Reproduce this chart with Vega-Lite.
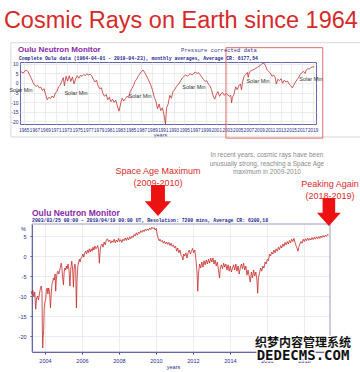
{
  "$schema": "https://vega.github.io/schema/vega-lite/v6.json",
  "background": "white",
  "padding": {"left": 3, "top": 9, "right": 0, "bottom": 0},
  "title": {"text": "Cosmic Rays on Earth since 1964", "anchor": "start", "frame": "bounds", "font": "Liberation Sans", "fontSize": 23.5, "fontWeight": "normal", "color": "#d62a2a", "baseline": "alphabetic", "offset": -10, "dx": -5},
  "columns": 1,
  "spacing": 12,
  "datasets": {
    "topLine": [
      {"t":1964.3,"v":5.0},{"t":1964.6,"v":5.8},{"t":1964.9,"v":5.2},{"t":1965.2,"v":6.3},{"t":1965.5,"v":6.8},{"t":1965.8,"v":5.9},
      {"t":1966.1,"v":4.2},{"t":1966.4,"v":2.5},{"t":1966.7,"v":0.5},{"t":1967.0,"v":-1.0},{"t":1967.3,"v":-1.8},{"t":1967.6,"v":-1.2},
      {"t":1967.9,"v":-2.6},{"t":1968.2,"v":-2.2},{"t":1968.5,"v":-4.0},{"t":1968.8,"v":-3.0},{"t":1969.1,"v":-6.2},{"t":1969.4,"v":-8.8},
      {"t":1969.7,"v":-7.5},{"t":1970.0,"v":-8.2},{"t":1970.3,"v":-6.8},{"t":1970.6,"v":-7.8},{"t":1970.9,"v":-5.2},{"t":1971.2,"v":-4.5},
      {"t":1971.5,"v":-2.0},{"t":1971.8,"v":-1.2},{"t":1972.1,"v":0.8},{"t":1972.4,"v":2.8},{"t":1972.6,"v":-1.5},{"t":1972.9,"v":3.5},
      {"t":1973.2,"v":1.0},{"t":1973.5,"v":3.8},{"t":1973.8,"v":0.8},{"t":1974.1,"v":3.2},{"t":1974.4,"v":-0.5},{"t":1974.7,"v":2.2},
      {"t":1975.0,"v":3.8},{"t":1975.3,"v":2.5},{"t":1975.6,"v":4.0},{"t":1975.9,"v":3.5},{"t":1976.2,"v":4.5},{"t":1976.5,"v":3.8},
      {"t":1976.8,"v":4.8},{"t":1977.1,"v":4.2},{"t":1977.4,"v":4.6},{"t":1977.7,"v":3.8},{"t":1978.0,"v":2.0},{"t":1978.3,"v":0.5},
      {"t":1978.6,"v":1.5},{"t":1978.9,"v":-1.5},{"t":1979.2,"v":-3.0},{"t":1979.5,"v":-2.5},{"t":1979.8,"v":-5.5},{"t":1980.1,"v":-7.0},
      {"t":1980.4,"v":-6.0},{"t":1980.7,"v":-8.8},{"t":1981.0,"v":-7.5},{"t":1981.3,"v":-9.8},{"t":1981.6,"v":-8.5},{"t":1981.9,"v":-10.2},
      {"t":1982.2,"v":-9.0},{"t":1982.5,"v":-12.0},{"t":1982.8,"v":-14.8},{"t":1983.1,"v":-11.0},{"t":1983.4,"v":-8.0},{"t":1983.7,"v":-9.5},
      {"t":1984.0,"v":-8.2},{"t":1984.3,"v":-7.0},{"t":1984.6,"v":-7.5},{"t":1984.9,"v":-4.5},{"t":1985.2,"v":-3.0},{"t":1985.5,"v":-1.5},
      {"t":1985.8,"v":0.8},{"t":1986.1,"v":2.0},{"t":1986.4,"v":3.5},{"t":1986.7,"v":4.8},{"t":1987.0,"v":6.0},{"t":1987.3,"v":6.8},
      {"t":1987.6,"v":5.5},{"t":1987.9,"v":4.0},{"t":1988.2,"v":2.2},{"t":1988.5,"v":0.5},{"t":1988.8,"v":-1.5},{"t":1989.1,"v":-4.0},
      {"t":1989.4,"v":-7.5},{"t":1989.7,"v":-9.5},{"t":1990.0,"v":-13.5},{"t":1990.3,"v":-11.0},{"t":1990.6,"v":-14.5},{"t":1990.9,"v":-13.0},
      {"t":1991.2,"v":-16.5},{"t":1991.5,"v":-21.5},{"t":1991.7,"v":-13.0},{"t":1992.0,"v":-11.0},{"t":1992.3,"v":-6.5},{"t":1992.6,"v":-8.0},
      {"t":1992.9,"v":-4.5},{"t":1993.2,"v":-3.5},{"t":1993.5,"v":-2.0},{"t":1993.8,"v":-1.0},{"t":1994.1,"v":0.0},{"t":1994.4,"v":1.5},
      {"t":1994.7,"v":2.8},{"t":1995.0,"v":3.6},{"t":1995.3,"v":4.2},{"t":1995.6,"v":3.5},{"t":1995.9,"v":4.5},{"t":1996.2,"v":4.8},
      {"t":1996.5,"v":4.2},{"t":1996.8,"v":5.2},{"t":1997.1,"v":5.6},{"t":1997.4,"v":5.0},{"t":1997.7,"v":5.4},{"t":1998.0,"v":4.2},
      {"t":1998.3,"v":3.0},{"t":1998.6,"v":1.8},{"t":1998.9,"v":0.8},{"t":1999.2,"v":1.2},{"t":1999.5,"v":-0.5},{"t":1999.8,"v":-1.5},
      {"t":2000.1,"v":-3.5},{"t":2000.4,"v":-6.8},{"t":2000.7,"v":-8.5},{"t":2001.0,"v":-6.0},{"t":2001.3,"v":-4.5},{"t":2001.6,"v":-7.0},
      {"t":2001.9,"v":-5.5},{"t":2002.2,"v":-5.0},{"t":2002.5,"v":-6.5},{"t":2002.8,"v":-5.5},{"t":2003.1,"v":-6.0},{"t":2003.4,"v":-7.0},
      {"t":2003.7,"v":-6.5},{"t":2003.85,"v":-10.5},{"t":2004.0,"v":-7.5},{"t":2004.3,"v":-6.0},{"t":2004.6,"v":-2.0},{"t":2004.9,"v":-3.5},
      {"t":2005.2,"v":-1.5},{"t":2005.5,"v":-0.5},{"t":2005.7,"v":-3.5},{"t":2005.9,"v":0.5},{"t":2006.2,"v":3.5},{"t":2006.5,"v":4.5},
      {"t":2006.8,"v":5.5},{"t":2006.95,"v":3.0},{"t":2007.2,"v":5.8},{"t":2007.5,"v":6.5},{"t":2007.8,"v":6.8},{"t":2008.1,"v":7.2},
      {"t":2008.4,"v":7.8},{"t":2008.7,"v":8.2},{"t":2009.0,"v":8.8},{"t":2009.3,"v":9.5},{"t":2009.6,"v":10.2},{"t":2009.9,"v":10.4},
      {"t":2010.2,"v":9.0},{"t":2010.5,"v":6.8},{"t":2010.8,"v":6.0},{"t":2011.1,"v":5.2},{"t":2011.4,"v":3.5},{"t":2011.7,"v":4.2},
      {"t":2012.0,"v":3.0},{"t":2012.2,"v":-0.5},{"t":2012.5,"v":2.0},{"t":2012.8,"v":1.2},{"t":2013.1,"v":2.2},{"t":2013.4,"v":-0.2},
      {"t":2013.7,"v":1.5},{"t":2014.0,"v":0.5},{"t":2014.3,"v":1.0},{"t":2014.6,"v":-0.5},{"t":2014.9,"v":-1.5},{"t":2015.2,"v":-2.5},
      {"t":2015.5,"v":-1.0},{"t":2015.8,"v":0.5},{"t":2016.1,"v":1.8},{"t":2016.4,"v":3.0},{"t":2016.7,"v":4.5},{"t":2017.0,"v":5.5},
      {"t":2017.3,"v":6.0},{"t":2017.6,"v":5.0},{"t":2017.8,"v":6.8},{"t":2018.1,"v":7.5},{"t":2018.4,"v":7.2},{"t":2018.7,"v":8.2},
      {"t":2019.0,"v":8.4},{"t":2019.3,"v":8.6}
    ],
    "botLine": [
      {"t":2003.25,"v":-8.8},{"t":2003.30,"v":-9.5},{"t":2003.35,"v":-8.6},{"t":2003.40,"v":-10.2},{"t":2003.45,"v":-9.0},{"t":2003.50,"v":-13.3},
      {"t":2003.55,"v":-10.5},{"t":2003.60,"v":-10.0},{"t":2003.65,"v":-11.0},{"t":2003.70,"v":-9.5},{"t":2003.75,"v":-8.2},{"t":2003.80,"v":-7.5},
      {"t":2003.84,"v":-9.0},{"t":2003.86,"v":-18.0},{"t":2003.88,"v":-23.0},{"t":2003.90,"v":-20.5},{"t":2003.93,"v":-18.7},{"t":2003.96,"v":-13.0},
      {"t":2004.00,"v":-11.5},{"t":2004.04,"v":-10.7},{"t":2004.08,"v":-8.5},{"t":2004.12,"v":-8.0},{"t":2004.16,"v":-9.5},{"t":2004.20,"v":-8.0},
      {"t":2004.25,"v":-9.0},{"t":2004.30,"v":-13.0},{"t":2004.34,"v":-9.5},{"t":2004.38,"v":-7.0},{"t":2004.42,"v":-6.5},{"t":2004.46,"v":-5.5},
      {"t":2004.50,"v":-6.0},{"t":2004.55,"v":-4.5},{"t":2004.58,"v":-8.8},{"t":2004.62,"v":-5.5},{"t":2004.66,"v":-4.2},{"t":2004.70,"v":-3.8},
      {"t":2004.75,"v":-4.5},{"t":2004.80,"v":-3.5},{"t":2004.85,"v":-2.5},{"t":2004.88,"v":-1.8},{"t":2004.92,"v":-3.0},{"t":2004.96,"v":-5.5},
      {"t":2005.00,"v":-7.2},{"t":2005.04,"v":-4.0},{"t":2005.08,"v":-3.0},{"t":2005.12,"v":-3.5},{"t":2005.16,"v":-2.5},{"t":2005.20,"v":-3.2},
      {"t":2005.25,"v":-2.0},{"t":2005.30,"v":-3.5},{"t":2005.35,"v":-7.5},{"t":2005.40,"v":-3.0},{"t":2005.45,"v":-1.3},{"t":2005.50,"v":-3.5},
      {"t":2005.54,"v":-7.8},{"t":2005.58,"v":-3.0},{"t":2005.62,"v":-2.0},{"t":2005.66,"v":-3.2},{"t":2005.70,"v":-13.0},{"t":2005.74,"v":-5.5},
      {"t":2005.78,"v":-2.5},{"t":2005.82,"v":-1.5},{"t":2005.86,"v":-0.8},{"t":2005.90,"v":-1.5},{"t":2005.95,"v":-0.5},{"t":2006.00,"v":-0.2},
      {"t":2006.05,"v":0.5},{"t":2006.10,"v":-0.3},{"t":2006.15,"v":0.8},{"t":2006.20,"v":1.2},{"t":2006.25,"v":0.5},{"t":2006.30,"v":1.5},
      {"t":2006.35,"v":0.8},{"t":2006.40,"v":1.8},{"t":2006.45,"v":1.0},{"t":2006.50,"v":1.8},{"t":2006.55,"v":1.2},{"t":2006.60,"v":2.2},
      {"t":2006.65,"v":1.5},{"t":2006.70,"v":2.5},{"t":2006.75,"v":1.8},{"t":2006.80,"v":2.0},{"t":2006.85,"v":2.6},{"t":2006.90,"v":1.5},
      {"t":2006.94,"v":-1.8},{"t":2006.98,"v":1.0},{"t":2007.02,"v":2.5},{"t":2007.08,"v":3.0},{"t":2007.14,"v":2.2},{"t":2007.20,"v":3.5},
      {"t":2007.26,"v":2.8},{"t":2007.32,"v":4.0},{"t":2007.38,"v":4.3},{"t":2007.44,"v":3.6},{"t":2007.50,"v":4.0},{"t":2007.56,"v":3.2},
      {"t":2007.62,"v":3.8},{"t":2007.68,"v":3.4},{"t":2007.74,"v":4.2},{"t":2007.80,"v":3.3},{"t":2007.86,"v":4.0},{"t":2007.92,"v":3.5},
      {"t":2007.98,"v":4.4},{"t":2008.04,"v":3.6},{"t":2008.10,"v":4.1},{"t":2008.16,"v":3.4},{"t":2008.22,"v":4.2},{"t":2008.28,"v":3.8},
      {"t":2008.34,"v":4.5},{"t":2008.40,"v":3.9},{"t":2008.46,"v":4.6},{"t":2008.52,"v":4.0},{"t":2008.58,"v":4.8},{"t":2008.64,"v":4.3},
      {"t":2008.70,"v":5.0},{"t":2008.76,"v":4.6},{"t":2008.82,"v":5.4},{"t":2008.88,"v":5.0},{"t":2008.94,"v":5.8},{"t":2009.00,"v":5.2},
      {"t":2009.06,"v":6.0},{"t":2009.12,"v":5.6},{"t":2009.18,"v":6.3},{"t":2009.24,"v":5.9},{"t":2009.30,"v":6.5},{"t":2009.36,"v":6.1},
      {"t":2009.42,"v":6.7},{"t":2009.48,"v":6.3},{"t":2009.54,"v":6.8},{"t":2009.60,"v":6.4},{"t":2009.66,"v":7.0},{"t":2009.72,"v":6.6},
      {"t":2009.78,"v":7.2},{"t":2009.84,"v":6.8},{"t":2009.90,"v":7.1},{"t":2009.96,"v":6.5},{"t":2010.02,"v":6.9},{"t":2010.06,"v":5.5},
      {"t":2010.10,"v":4.8},{"t":2010.14,"v":4.2},{"t":2010.18,"v":3.8},{"t":2010.22,"v":4.2},{"t":2010.28,"v":3.6},{"t":2010.34,"v":3.9},
      {"t":2010.40,"v":3.2},{"t":2010.46,"v":3.7},{"t":2010.52,"v":3.0},{"t":2010.58,"v":3.5},{"t":2010.64,"v":2.9},{"t":2010.70,"v":3.4},
      {"t":2010.76,"v":2.6},{"t":2010.82,"v":3.2},{"t":2010.88,"v":2.4},{"t":2010.94,"v":2.8},{"t":2011.00,"v":2.0},{"t":2011.06,"v":2.5},
      {"t":2011.12,"v":1.2},{"t":2011.18,"v":2.0},{"t":2011.24,"v":0.8},{"t":2011.30,"v":1.5},{"t":2011.36,"v":0.2},{"t":2011.42,"v":-0.2},
      {"t":2011.46,"v":-1.0},{"t":2011.50,"v":0.5},{"t":2011.56,"v":0.0},{"t":2011.62,"v":0.8},{"t":2011.68,"v":-0.5},{"t":2011.74,"v":0.8},
      {"t":2011.80,"v":1.5},{"t":2011.86,"v":0.5},{"t":2011.92,"v":1.2},{"t":2011.98,"v":1.9},{"t":2012.04,"v":0.8},{"t":2012.10,"v":1.5},
      {"t":2012.16,"v":-0.8},{"t":2012.22,"v":-4.0},{"t":2012.26,"v":-8.8},{"t":2012.30,"v":-4.5},{"t":2012.36,"v":-2.0},{"t":2012.42,"v":-3.0},
      {"t":2012.48,"v":-1.5},{"t":2012.54,"v":-2.8},{"t":2012.60,"v":-1.2},{"t":2012.66,"v":-2.2},{"t":2012.72,"v":-1.0},{"t":2012.78,"v":-2.0},
      {"t":2012.84,"v":-0.8},{"t":2012.90,"v":-1.8},{"t":2012.96,"v":-0.5},{"t":2013.02,"v":-1.5},{"t":2013.08,"v":-0.5},{"t":2013.14,"v":-2.0},
      {"t":2013.20,"v":-1.0},{"t":2013.26,"v":-2.5},{"t":2013.32,"v":-1.5},{"t":2013.38,"v":-3.5},{"t":2013.44,"v":-5.5},{"t":2013.48,"v":-3.0},
      {"t":2013.54,"v":-2.2},{"t":2013.60,"v":-3.2},{"t":2013.66,"v":-1.8},{"t":2013.72,"v":-2.8},{"t":2013.78,"v":-2.0},{"t":2013.84,"v":-3.5},
      {"t":2013.90,"v":-2.2},{"t":2013.96,"v":-3.8},{"t":2014.02,"v":-2.5},{"t":2014.08,"v":-4.0},{"t":2014.14,"v":-3.0},{"t":2014.20,"v":-2.2},
      {"t":2014.26,"v":-3.5},{"t":2014.32,"v":-2.0},{"t":2014.38,"v":-3.8},{"t":2014.44,"v":-2.5},{"t":2014.50,"v":-4.5},{"t":2014.56,"v":-3.0},
      {"t":2014.62,"v":-2.0},{"t":2014.68,"v":-3.2},{"t":2014.74,"v":-1.8},{"t":2014.80,"v":-3.5},{"t":2014.86,"v":-2.5},{"t":2014.92,"v":-4.8},
      {"t":2014.98,"v":-3.5},{"t":2015.04,"v":-5.0},{"t":2015.10,"v":-6.5},{"t":2015.16,"v":-4.0},{"t":2015.22,"v":-5.5},{"t":2015.28,"v":-3.5},
      {"t":2015.34,"v":-5.0},{"t":2015.40,"v":-4.0},{"t":2015.46,"v":-6.0},{"t":2015.50,"v":-9.3},{"t":2015.54,"v":-5.5},{"t":2015.60,"v":-4.2},
      {"t":2015.66,"v":-3.0},{"t":2015.72,"v":-3.8},{"t":2015.78,"v":-2.5},{"t":2015.84,"v":-3.0},{"t":2015.90,"v":-1.5},{"t":2015.96,"v":-2.0},
      {"t":2016.02,"v":-0.8},{"t":2016.08,"v":-1.2},{"t":2016.14,"v":0.5},{"t":2016.20,"v":0.0},{"t":2016.26,"v":1.0},{"t":2016.32,"v":0.5},
      {"t":2016.38,"v":1.5},{"t":2016.44,"v":0.8},{"t":2016.50,"v":1.8},{"t":2016.56,"v":1.2},{"t":2016.62,"v":2.2},{"t":2016.68,"v":1.6},
      {"t":2016.74,"v":2.6},{"t":2016.80,"v":2.0},{"t":2016.86,"v":3.0},{"t":2016.92,"v":2.4},{"t":2016.98,"v":3.4},{"t":2017.04,"v":2.8},
      {"t":2017.10,"v":3.6},{"t":2017.16,"v":3.0},{"t":2017.22,"v":3.9},{"t":2017.28,"v":3.3},{"t":2017.34,"v":4.2},{"t":2017.40,"v":3.6},
      {"t":2017.46,"v":4.4},{"t":2017.52,"v":3.4},{"t":2017.58,"v":2.5},{"t":2017.64,"v":1.8},{"t":2017.68,"v":1.2},{"t":2017.72,"v":2.2},
      {"t":2017.78,"v":3.0},{"t":2017.84,"v":3.6},{"t":2017.90,"v":3.2},{"t":2017.96,"v":4.2},{"t":2018.02,"v":3.6},{"t":2018.08,"v":4.3},
      {"t":2018.14,"v":3.8},{"t":2018.20,"v":4.5},{"t":2018.26,"v":3.9},{"t":2018.32,"v":4.4},{"t":2018.38,"v":4.0},{"t":2018.44,"v":4.6},
      {"t":2018.50,"v":4.1},{"t":2018.56,"v":4.7},{"t":2018.62,"v":4.2},{"t":2018.68,"v":4.8},{"t":2018.74,"v":4.3},{"t":2018.80,"v":4.9},
      {"t":2018.86,"v":4.4},{"t":2018.92,"v":5.0},{"t":2018.98,"v":4.6},{"t":2019.04,"v":5.1},{"t":2019.10,"v":4.7},{"t":2019.16,"v":5.2},
      {"t":2019.22,"v":4.9},{"t":2019.28,"v":5.4},{"t":2019.34,"v":5.3}
    ]
  },
  "concat": [
    {
      "width": 296,
      "height": 62,
      "view": {"stroke": "#6464aa", "strokeWidth": 1},
      "encoding": {
        "x": {"field": "t", "type": "quantitative", "scale": {"domain": [1964.3, 2019.63], "nice": false, "zero": false},
          "axis": {"values": [1965,1967,1969,1971,1973,1975,1977,1979,1981,1983,1985,1987,1989,1991,1993,1995,1997,1999,2001,2003,2005,2007,2009,2011,2013,2015,2017,2019],
            "labelExpr": "'' + datum.value", "labelFont": "Liberation Sans", "labelFontSize": 4.6, "labelColor": "#2b2b8c", "labelPadding": 3, "labelOverlap": false, "labelFlush": false,
            "title": "years", "titleFont": "Liberation Sans", "titleFontSize": 5.5, "titleFontWeight": "normal", "titleColor": "#2b2b8c", "titlePadding": 1, "titleX": 140,
            "ticks": false, "domain": false, "grid": true, "gridColor": "#e4e4e4", "gridWidth": 0.7}},
        "y": {"field": "v", "type": "quantitative", "scale": {"domain": [-21.5, 11], "nice": false, "zero": false},
          "axis": {"values": [10,5,0,-5,-10,-15,-20], "labelExpr": "'' + datum.value", "labelFont": "Liberation Sans", "labelFontSize": 5, "labelColor": "#2b2b8c", "labelPadding": 2,
            "title": null, "ticks": false, "domain": false, "grid": true, "gridColor": "#e4e4e4", "gridWidth": 0.7}}
      },
      "layer": [
        {"data": {"values": [{"t": 1962.6, "t2": 2028.0, "v": 21.1, "v2": -28.3}]},
         "mark": {"type": "rect", "fill": null, "stroke": "#d8d8d8", "strokeWidth": 1, "clip": false},
         "encoding": {"x2": {"field": "t2"}, "y2": {"field": "v2"}}},
        {"data": {"name": "topLine"}, "mark": {"type": "line", "color": "#c03030", "strokeWidth": 0.8, "clip": false}},
        {"data": {"values": [{"t": 2002.8, "t2": 2020.9, "v": 18.5, "v2": -28.9}]},
         "mark": {"type": "rect", "fill": null, "stroke": "#e06a6a", "strokeWidth": 1, "clip": false},
         "encoding": {"x2": {"field": "t2"}, "y2": {"field": "v2"}}},
        {"data": {"values": [
            {"t": 1964.49, "v": -3.85, "label": "Solar Min"}, {"t": 1974.77, "v": -5.42, "label": "Solar Min"},
            {"t": 1986.73, "v": -6.98, "label": "Solar Min"}, {"t": 1996.82, "v": -2.29, "label": "Solar Min"},
            {"t": 2008.79, "v": 0.83, "label": "Solar Min"}, {"t": 2018.69, "v": 1.88, "label": "Solar Min"}]},
         "mark": {"type": "text", "font": "Liberation Sans", "fontSize": 5.5, "color": "#333333", "align": "center", "baseline": "middle", "clip": false},
         "encoding": {"text": {"field": "label"}}},
        {"data": {"values": [{"t": 1963.93, "v": 17.5, "label": "Oulu Neutron Monitor"}]},
         "mark": {"type": "text", "font": "Liberation Sans", "fontSize": 8, "fontWeight": "bold", "color": "#8a26a8", "align": "left", "baseline": "middle", "clip": false},
         "encoding": {"text": {"field": "label"}}},
        {"data": {"values": [{"t": 1964.11, "v": 12.8, "label": "Complete Oulu data (1964-04-01 - 2019-04-23), monthly averages, Average CR: 6177,54"}]},
         "mark": {"type": "text", "font": "Liberation Mono", "fontSize": 4.8, "fontWeight": "bold", "color": "#1c1c8c", "align": "left", "baseline": "middle", "clip": false},
         "encoding": {"text": {"field": "label"}}},
        {"data": {"values": [{"t": 1994.39, "v": 17.5, "label": "Pressure corrected data"}]},
         "mark": {"type": "text", "font": "Liberation Mono", "fontSize": 5.5, "color": "#3a3a8a", "align": "left", "baseline": "middle", "clip": false},
         "encoding": {"text": {"field": "label"}}}
      ]
    },
    {
      "width": 310,
      "height": 128,
      "view": {"stroke": null},
      "encoding": {
        "x": {"field": "t", "type": "quantitative", "scale": {"domain": [2003.3, 2019.41], "range": [12, 310], "nice": false, "zero": false},
          "axis": {"values": [2004,2006,2008,2010,2012,2014,2016,2018],
            "labelExpr": "'' + datum.value", "labelFont": "Liberation Sans", "labelFontSize": 5.5, "labelColor": "#2b2b8c", "labelPadding": 4, "labelFlush": false,
            "title": "years", "titleFont": "Liberation Sans", "titleFontSize": 5.5, "titleFontWeight": "normal", "titleColor": "#2b2b8c", "titlePadding": 1, "titleX": 153,
            "ticks": true, "tickSize": 2, "tickColor": "#30308a", "domain": true, "domainColor": "#30308a", "grid": true, "gridColor": "#e4e4e4", "gridWidth": 0.7}},
        "y": {"field": "v", "type": "quantitative", "scale": {"domain": [-24, 8], "nice": false, "zero": false},
          "axis": {"values": [5,0,-5,-10,-15,-20], "labelExpr": "'' + datum.value", "labelFont": "Liberation Sans", "labelFontSize": 5.5, "labelColor": "#2b2b8c", "labelPadding": 4,
            "offset": -12,
            "title": "%", "titleFont": "Liberation Sans", "titleFontSize": 5.5, "titleFontWeight": "normal", "titleColor": "#2b2b8c", "titleAngle": 0, "titleX": -9, "titleY": 4, "titleAlign": "center", "titleBaseline": "middle",
            "ticks": true, "tickSize": 2, "tickColor": "#30308a", "domain": true, "domainColor": "#30308a", "grid": true, "gridColor": "#e4e4e4", "gridWidth": 0.7}}
      },
      "layer": [
        {"data": {"values": [{"t": 2003.3, "t2": 2019.41, "v": 8, "v2": -24}]},
         "mark": {"type": "rect", "fill": null, "stroke": "#9a9ac4", "strokeWidth": 1, "clip": false},
         "encoding": {"x2": {"field": "t2"}, "y2": {"field": "v2"}}},
        {"data": {"name": "botLine"}, "mark": {"type": "line", "color": "#c62828", "strokeWidth": 0.8, "clip": false}},
        {"data": {"values": [{"t": 2003.3, "v": 10.75, "label": "Oulu Neutron Monitor"}]},
         "mark": {"type": "text", "font": "Liberation Sans", "fontSize": 8.5, "fontWeight": "bold", "color": "#8a26a8", "align": "left", "baseline": "middle", "clip": false},
         "encoding": {"text": {"field": "label"}}},
        {"data": {"values": [{"t": 2003.3, "v": 8.75, "label": "2003/03/25  00:00 - 2019/04/19  00:00 UT, Resolution: 7200 mins, Average CR: 6300,18"}]},
         "mark": {"type": "text", "font": "Liberation Mono", "fontSize": 4.8, "fontWeight": "bold", "color": "#1c1c8c", "align": "left", "baseline": "middle", "clip": false},
         "encoding": {"text": {"field": "label"}}},
        {"data": {"values": [{"t": 2016.0, "v": 25.25, "label": "In recent years, cosmic rays have been\nunusually strong, reaching a Space Age\nmaximum in 2009-2010"}]},
         "mark": {"type": "text", "font": "Liberation Sans", "fontSize": 6.5, "color": "#8a8a8a", "align": "center", "baseline": "middle", "lineBreak": "\n", "lineHeight": 8.5, "clip": false},
         "encoding": {"text": {"field": "label"}}},
        {"data": {"values": [
            {"t": 2010.11, "v": 21.2, "label": "Space Age Maximum\n(2009-2010)"},
            {"t": 2019.41, "v": 17.9, "label": "Peaking Again\n(2018-2019)"}]},
         "mark": {"type": "text", "font": "Liberation Sans", "fontSize": 9, "color": "#d62a2a", "align": "center", "baseline": "middle", "lineBreak": "\n", "lineHeight": 11.5, "clip": false},
         "encoding": {"text": {"field": "label"}}},
        {"data": {"values": [{"t": 2010.11, "v": 13.875}]},
         "mark": {"type": "point", "shape": "M-0.45,-1L0.45,-1L0.45,0.05L0.85,0.05L0,1L-0.85,0.05L-0.45,0.05Z", "size": 961, "filled": true, "color": "#ee1111", "opacity": 1, "clip": false}},
        {"data": {"values": [{"t": 2019.35, "v": 11.0}]},
         "mark": {"type": "point", "shape": "M-0.45,-1L0.45,-1L0.45,0.05L0.85,0.05L0,1L-0.85,0.05L-0.45,0.05Z", "size": 784, "filled": true, "color": "#ee1111", "opacity": 1, "clip": false}},
        {"data": {"values": [{"t": 2017.95, "v": -21.75, "label": "织梦内容管理系统"}]},
         "mark": {"type": "text", "font": "Noto Sans CJK SC", "fontSize": 12, "fontWeight": "bold", "color": "white", "stroke": "white", "strokeWidth": 2.5, "align": "center", "baseline": "middle", "clip": false},
         "encoding": {"text": {"field": "label"}}},
        {"data": {"values": [{"t": 2017.95, "v": -21.75, "label": "织梦内容管理系统"}]},
         "mark": {"type": "text", "font": "Noto Sans CJK SC", "fontSize": 12, "fontWeight": "bold", "color": "#111111", "align": "center", "baseline": "middle", "clip": false},
         "encoding": {"text": {"field": "label"}}},
        {"data": {"values": [{"t": 2017.95, "v": -25.0, "label": "DEDECMS.COM"}]},
         "mark": {"type": "text", "font": "DejaVu Sans Mono", "fontSize": 14, "fontWeight": "bold", "color": "white", "stroke": "white", "strokeWidth": 2.5, "align": "center", "baseline": "middle", "clip": false},
         "encoding": {"text": {"field": "label"}}},
        {"data": {"values": [{"t": 2017.95, "v": -25.0, "label": "DEDECMS.COM"}]},
         "mark": {"type": "text", "font": "DejaVu Sans Mono", "fontSize": 14, "fontWeight": "bold", "color": "#111111", "align": "center", "baseline": "middle", "clip": false},
         "encoding": {"text": {"field": "label"}}}
      ]
    }
  ]
}
